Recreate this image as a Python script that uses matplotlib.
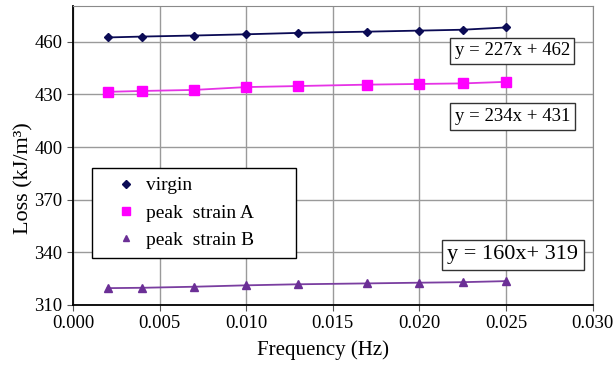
import matplotlib
matplotlib.use("Agg")
import matplotlib.pyplot as plt

# frequency (Hz) and loss (kJ/m3)
freq = [0.002, 0.004, 0.007, 0.010, 0.013, 0.017, 0.020, 0.0225, 0.025]
virgin = [462.5, 463.0, 463.6, 464.3, 465.1, 465.8, 466.4, 466.9, 468.2]
peak_a = [431.5, 432.0, 432.6, 434.2, 434.8, 435.6, 436.0, 436.3, 437.2]
peak_b = [319.6, 319.8, 320.4, 321.2, 321.8, 322.3, 322.7, 323.0, 323.6]

x_ticks = [0.000, 0.005, 0.010, 0.015, 0.020, 0.025, 0.030]
y_ticks = [310, 340, 370, 400, 430, 460]
fit_labels = ["y = 227x + 462", "y = 234x + 431", "y = 160x+ 319"]

plt.rcParams["font.family"] = ["Liberation Serif", "DejaVu Serif"]

fig = plt.figure(figsize=(6.14, 3.67), dpi=100)
ax = fig.add_axes([0.119, 0.169, 0.846, 0.815])

ax.plot(freq, virgin, color="#0b0b55", marker="D", markersize=4.5, lw=1.3, label="virgin")
ax.plot(freq, peak_a, color="#e633e6", marker="s", markersize=6.5, markerfacecolor="#ff00ff",
        markeredgecolor="#ff00ff", lw=1.3, label="peak  strain A")
ax.plot(freq, peak_b, color="#7a3ea0", marker="^", markersize=5.5, markerfacecolor="#6b2f96",
        markeredgecolor="#6b2f96", lw=1.3, label="peak  strain B")

ax.set_xlim(0, 0.030)
ax.set_ylim(310, 480.5)
ax.set_xticks(x_ticks)
ax.set_xticklabels([f"{t:.3f}" for t in x_ticks])
ax.set_yticks(y_ticks)
ax.grid(True, color="#9a9a9a", lw=1.0)
ax.set_axisbelow(True)
ax.tick_params(labelsize=13.5, length=4, color="#555555")
for s in ["top", "right"]:
    ax.spines[s].set_color("#8a8a8a")
for s in ["left", "bottom"]:
    ax.spines[s].set_color("black")
    ax.spines[s].set_linewidth(1.3)

ax.set_xlabel("Frequency (Hz)", fontsize=15, labelpad=6, x=0.482)
ax.set_ylabel("Loss (kJ/m³)", fontsize=16, labelpad=1, y=0.425)

leg = ax.legend(loc="upper left", bbox_to_anchor=(0.036, 0.177, 0.393, 0.281), mode="expand",
                borderaxespad=0, fontsize=14, frameon=True, fancybox=False, edgecolor="black",
                handlelength=2.58, handletextpad=-0.26, borderpad=0.45, labelspacing=0.5,
                markerscale=0.8, framealpha=1)
leg.get_frame().set_linewidth(1.0)
for h in leg.legend_handles:
    h.set_linestyle("none")

box = dict(boxstyle="square,pad=0.25", facecolor="white", edgecolor="#333333", lw=1.0)
ax.text(0.02536, 454.9, fit_labels[0], fontsize=13.5, ha="center", va="center", bbox=box)
ax.text(0.02540, 417.5, fit_labels[1], fontsize=13.5, ha="center", va="center", bbox=box)
ax.text(0.02540, 338.6, fit_labels[2], fontsize=16, ha="center", va="center", bbox=box)

fig.savefig("out.png", dpi=100)
